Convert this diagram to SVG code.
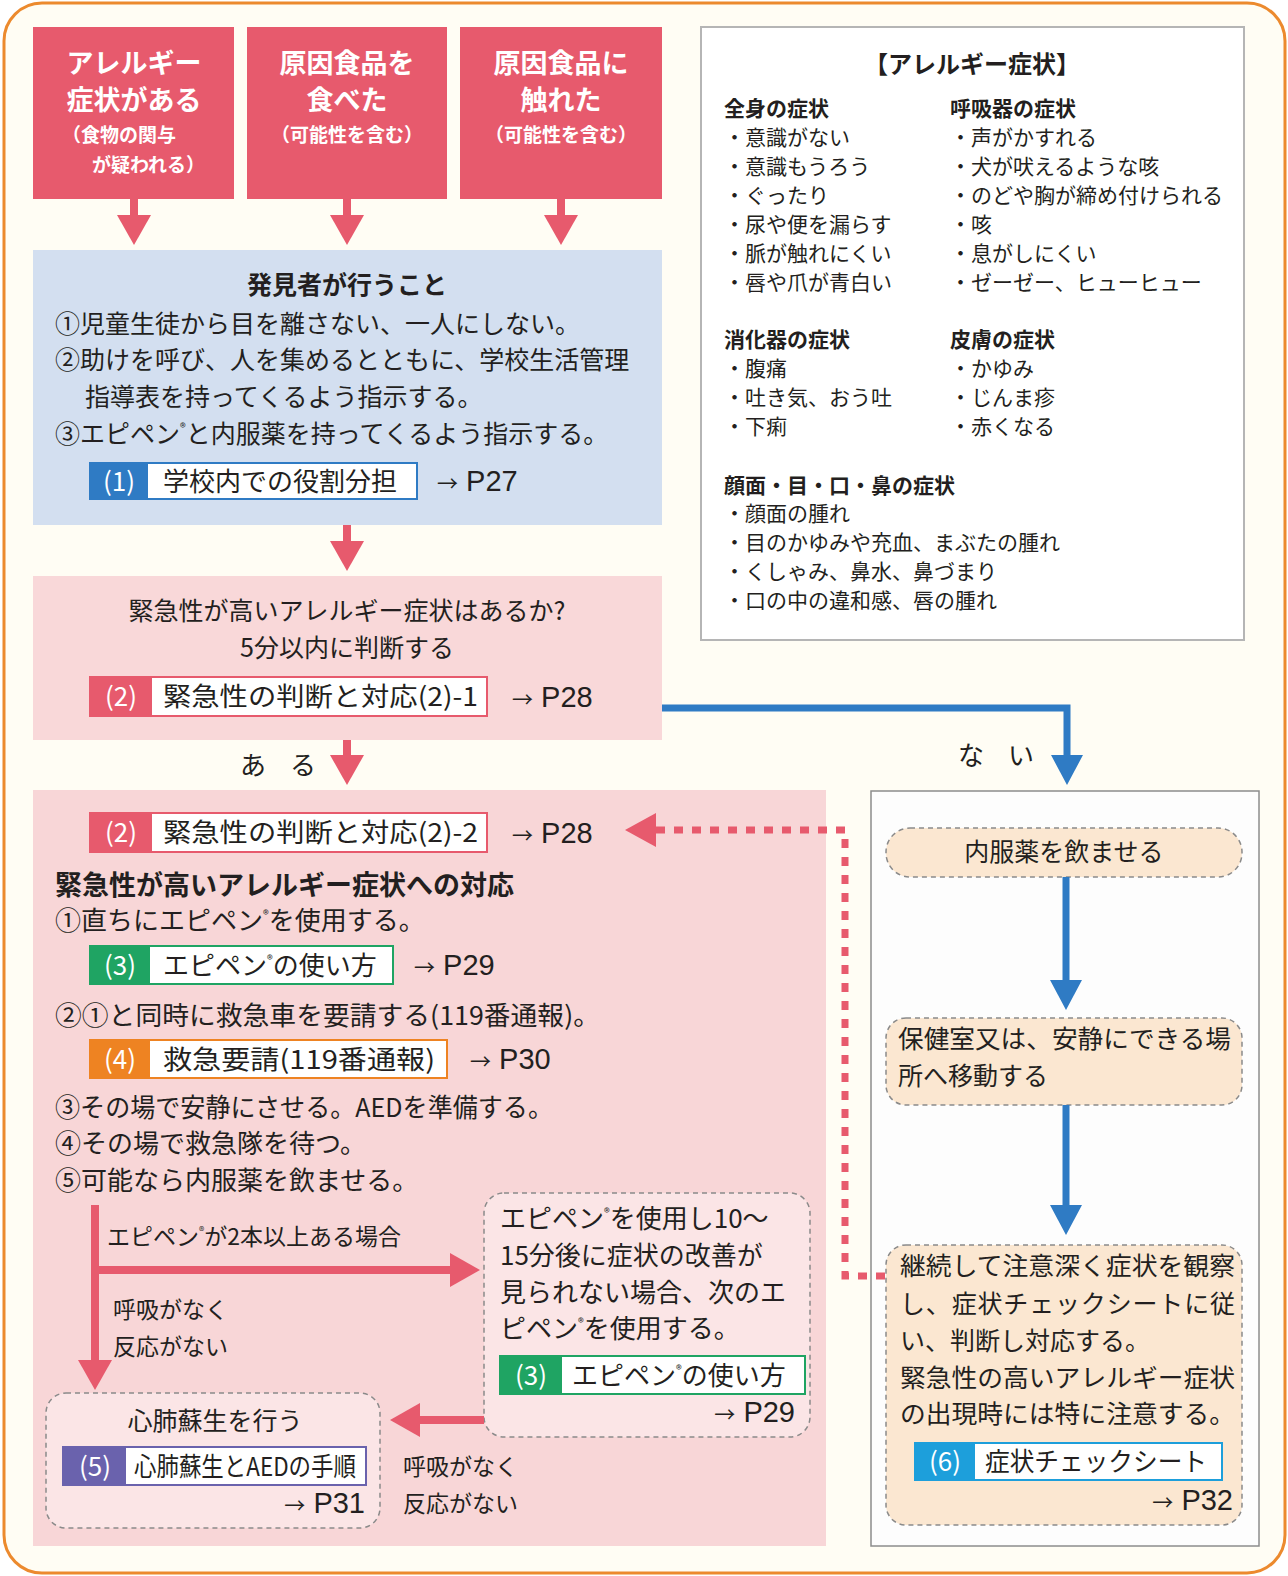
<svg xmlns="http://www.w3.org/2000/svg" width="1288" height="1576" viewBox="0 0 1288 1576">
<style>
text{font-family:"Noto Sans CJK JP","Noto Sans CJK SC",sans-serif;fill:#231f20}
.t{font-size:25px}
.t6{font-size:26px}
.b{font-weight:bold}
.w{fill:#fff}
.hd{font-size:27px;font-weight:bold;fill:#fff}
.sub{font-size:19px;font-weight:bold;fill:#fff}
.s{font-size:21px}
.sh{font-size:21px;font-weight:bold}
.pg{font-size:29px;font-family:"Liberation Sans",Arial,sans-serif}
.ar{font-size:21px;font-family:"Noto Sans CJK JP",sans-serif}
.lb{font-size:23px}
.red{fill:#e75a6d}
.dash{fill:#fbe5e6;stroke:#8a8a8a;stroke-width:1.5;stroke-dasharray:5 4}
.peach{fill:#fbe7d1;stroke:#8a8a8a;stroke-width:1.5;stroke-dasharray:5 4}
.pk{stroke:#e75a6d;stroke-width:8;fill:none}
.bl{stroke:#2f7bc4;stroke-width:7;fill:none}
</style>
<defs>
<marker id="ahp" viewBox="0 0 10 10" refX="0" refY="5" markerUnits="userSpaceOnUse" markerWidth="30" markerHeight="34" orient="auto" preserveAspectRatio="none"><path d="M0,0 L10,5 L0,10 z" fill="#e75a6d"/></marker>
<marker id="ahb" viewBox="0 0 10 10" refX="0" refY="5" markerUnits="userSpaceOnUse" markerWidth="30" markerHeight="32" orient="auto" preserveAspectRatio="none"><path d="M0,0 L10,5 L0,10 z" fill="#2f7bc4"/></marker>
</defs>

<rect x="4" y="3" width="1281" height="1570" rx="38" fill="#fffdf4" stroke="#ec8a2e" stroke-width="3"/>

<!-- top boxes -->
<g id="n-symptom">
<rect x="33" y="27" width="201" height="172" class="red"/>
<text x="134" y="73" class="hd" text-anchor="middle">アレルギー</text>
<text x="134" y="110" class="hd" text-anchor="middle">症状がある</text>
<text x="62" y="142" class="sub">（食物の関与</text>
<text x="92" y="172" class="sub">が疑われる）</text>
</g>
<g id="n-ate">
<rect x="247" y="27" width="200" height="172" class="red"/>
<text x="347" y="73" class="hd" text-anchor="middle">原因食品を</text>
<text x="347" y="110" class="hd" text-anchor="middle">食べた</text>
<text x="347" y="142" class="sub" text-anchor="middle">（可能性を含む）</text>
</g>
<g id="n-touched">
<rect x="460" y="27" width="202" height="172" class="red"/>
<text x="561" y="73" class="hd" text-anchor="middle">原因食品に</text>
<text x="561" y="110" class="hd" text-anchor="middle">触れた</text>
<text x="561" y="142" class="sub" text-anchor="middle">（可能性を含む）</text>
</g>

<!-- discoverer box -->
<g id="n-discoverer">
<rect x="33" y="250" width="629" height="275" fill="#d3dff0"/>
<text x="347" y="294" class="t b" text-anchor="middle">発見者が行うこと</text>
<text x="55" y="333" class="t">①児童生徒から目を離さない、一人にしない。</text>
<text x="55" y="369" class="t">②助けを呼び、人を集めるとともに、学校生活管理</text>
<text x="85" y="406" class="t">指導表を持ってくるよう指示する。</text>
<text x="55" y="443" class="t">③エピペン<tspan font-size="12" dy="-11">®</tspan><tspan dy="11">と内服薬を持ってくるよう指示する。</tspan></text>
<rect x="90" y="463" width="327" height="36" fill="#fff" stroke="#2f7bc4" stroke-width="2"/>
<rect x="90" y="463" width="58" height="36" fill="#2f7bc4"/>
<text x="119" y="491" class="t6 w" text-anchor="middle">(1)</text>
<text x="163" y="491" class="t6">学校内での役割分担</text>
<text x="437" y="491" class="pg"><tspan class="ar">→</tspan> P27</text>
</g>

<!-- judgement box -->
<g id="n-judge">
<rect x="33" y="576" width="629" height="164" fill="#f9d8d9"/>
<text x="347" y="620" class="t" text-anchor="middle">緊急性が高いアレルギー症状はあるか?</text>
<text x="347" y="657" class="t" text-anchor="middle">5分以内に判断する</text>
<rect x="90" y="677" width="397" height="39" fill="#fff" stroke="#e75a6d" stroke-width="2"/>
<rect x="90" y="677" width="62" height="39" fill="#e75a6d"/>
<text x="121" y="706" class="t6 w" text-anchor="middle">(2)</text>
<text x="163" y="706" class="t6" textLength="315" lengthAdjust="spacingAndGlyphs">緊急性の判断と対応(2)-1</text>
<text x="512" y="707" class="pg"><tspan class="ar">→</tspan> P28</text>
</g>

<!-- symptom list panel -->
<g id="n-list">
<rect x="701" y="27" width="543" height="613" fill="#fff" stroke="#b5b5b5" stroke-width="2"/>
<text x="972" y="73" font-size="24" class="b" text-anchor="middle">【アレルギー症状】</text>
<text x="724" y="116" class="sh">全身の症状</text>
<text x="724" y="145" class="s">・意識がない</text>
<text x="724" y="174" class="s">・意識もうろう</text>
<text x="724" y="203" class="s">・ぐったり</text>
<text x="724" y="232" class="s">・尿や便を漏らす</text>
<text x="724" y="261" class="s">・脈が触れにくい</text>
<text x="724" y="290" class="s">・唇や爪が青白い</text>
<text x="950" y="116" class="sh">呼吸器の症状</text>
<text x="950" y="145" class="s">・声がかすれる</text>
<text x="950" y="174" class="s">・犬が吠えるような咳</text>
<text x="950" y="203" class="s">・のどや胸が締め付けられる</text>
<text x="950" y="232" class="s">・咳</text>
<text x="950" y="261" class="s">・息がしにくい</text>
<text x="950" y="290" class="s">・ゼーゼー、ヒューヒュー</text>
<text x="724" y="347" class="sh">消化器の症状</text>
<text x="724" y="376" class="s">・腹痛</text>
<text x="724" y="405" class="s">・吐き気、おう吐</text>
<text x="724" y="434" class="s">・下痢</text>
<text x="950" y="347" class="sh">皮膚の症状</text>
<text x="950" y="376" class="s">・かゆみ</text>
<text x="950" y="405" class="s">・じんま疹</text>
<text x="950" y="434" class="s">・赤くなる</text>
<text x="724" y="493" class="sh">顔面・目・口・鼻の症状</text>
<text x="724" y="521" class="s">・顔面の腫れ</text>
<text x="724" y="550" class="s">・目のかゆみや充血、まぶたの腫れ</text>
<text x="724" y="579" class="s">・くしゃみ、鼻水、鼻づまり</text>
<text x="724" y="608" class="s">・口の中の違和感、唇の腫れ</text>
</g>

<!-- emergency response box -->
<g id="n-emergency">
<rect x="33" y="790" width="793" height="756" fill="#f8d6d7"/>
<rect x="90" y="813" width="397" height="39" fill="#fff" stroke="#e75a6d" stroke-width="2"/>
<rect x="90" y="813" width="62" height="39" fill="#e75a6d"/>
<text x="121" y="842" class="t6 w" text-anchor="middle">(2)</text>
<text x="163" y="842" class="t6" textLength="315" lengthAdjust="spacingAndGlyphs">緊急性の判断と対応(2)-2</text>
<text x="512" y="843" class="pg"><tspan class="ar">→</tspan> P28</text>
<text x="55" y="895" font-size="27" class="b">緊急性が高いアレルギー症状への対応</text>
<text x="55" y="930" class="t6">①直ちにエピペン<tspan font-size="12" dy="-11">®</tspan><tspan dy="11">を使用する。</tspan></text>
<rect x="90" y="946" width="303" height="38" fill="#fff" stroke="#1fa463" stroke-width="2"/>
<rect x="90" y="946" width="60" height="38" fill="#1fa463"/>
<text x="120" y="975" class="t6 w" text-anchor="middle">(3)</text>
<text x="163" y="975" class="t6">エピペン<tspan font-size="12" dy="-11">®</tspan><tspan dy="11">の使い方</tspan></text>
<text x="414" y="975" class="pg"><tspan class="ar">→</tspan> P29</text>
<text x="55" y="1025" class="t6" textLength="545" lengthAdjust="spacingAndGlyphs">②①と同時に救急車を要請する(119番通報)。</text>
<rect x="90" y="1040" width="357" height="38" fill="#fff" stroke="#ee8322" stroke-width="2"/>
<rect x="90" y="1040" width="60" height="38" fill="#ee8322"/>
<text x="120" y="1069" class="t6 w" text-anchor="middle">(4)</text>
<text x="163" y="1069" class="t6" textLength="272" lengthAdjust="spacingAndGlyphs">救急要請(119番通報)</text>
<text x="470" y="1069" class="pg"><tspan class="ar">→</tspan> P30</text>
<text x="55" y="1117" class="t6" textLength="498" lengthAdjust="spacingAndGlyphs">③その場で安静にさせる。AEDを準備する。</text>
<text x="55" y="1153" class="t6">④その場で救急隊を待つ。</text>
<text x="55" y="1190" class="t6">⑤可能なら内服薬を飲ませる。</text>
<text x="107" y="1245" class="lb">エピペン<tspan font-size="11" dy="-10">®</tspan><tspan dy="10">が2本以上ある場合</tspan></text>
<text x="113" y="1318" class="lb">呼吸がなく</text>
<text x="113" y="1355" class="lb">反応がない</text>
<text x="403" y="1475" class="lb">呼吸がなく</text>
<text x="403" y="1512" class="lb">反応がない</text>
</g>

<g id="n-second">
<rect x="484" y="1193" width="326" height="244" rx="20" class="dash"/>
<text x="500" y="1228" class="t6">エピペン<tspan font-size="12" dy="-11">®</tspan><tspan dy="11">を使用し10～</tspan></text>
<text x="500" y="1265" class="t6">15分後に症状の改善が</text>
<text x="500" y="1302" class="t6">見られない場合、次のエ</text>
<text x="500" y="1338" class="t6">ピペン<tspan font-size="12" dy="-11">®</tspan><tspan dy="11">を使用する。</tspan></text>
<rect x="500" y="1356" width="305" height="38" fill="#fff" stroke="#1fa463" stroke-width="2"/>
<rect x="500" y="1356" width="62" height="38" fill="#1fa463"/>
<text x="531" y="1385" class="t6 w" text-anchor="middle">(3)</text>
<text x="572" y="1385" class="t6">エピペン<tspan font-size="12" dy="-11">®</tspan><tspan dy="11">の使い方</tspan></text>
<text x="795" y="1422" class="pg" text-anchor="end"><tspan class="ar">→</tspan> P29</text>
</g>

<g id="n-cpr">
<rect x="46" y="1393" width="334" height="135" rx="20" class="dash"/>
<text x="215" y="1430" class="t" text-anchor="middle">心肺蘇生を行う</text>
<rect x="63" y="1447" width="303" height="38" fill="#fff" stroke="#6a62ad" stroke-width="2"/>
<rect x="63" y="1447" width="63" height="38" fill="#6a62ad"/>
<text x="95" y="1476" class="t6 w" text-anchor="middle">(5)</text>
<text x="134" y="1476" class="t6" textLength="222" lengthAdjust="spacingAndGlyphs">心肺蘇生とAEDの手順</text>
<text x="365" y="1513" class="pg" text-anchor="end"><tspan class="ar">→</tspan> P31</text>
</g>

<!-- right "no" panel -->
<g id="n-nopanel">
<rect x="871" y="791" width="388" height="755" fill="#fdfdfd" stroke="#8c8c8c" stroke-width="1.5"/>
</g>
<g id="n-medicine">
<rect x="886" y="828" width="356" height="49" rx="24" class="peach"/>
<text x="1064" y="861" class="t" text-anchor="middle">内服薬を飲ませる</text>
</g>
<g id="n-move">
<rect x="886" y="1018" width="356" height="87" rx="20" class="peach"/>
<text x="898" y="1048" class="t" textLength="333" lengthAdjust="spacingAndGlyphs">保健室又は、安静にできる場</text>
<text x="898" y="1085" class="t">所へ移動する</text>
</g>
<g id="n-observe">
<rect x="886" y="1245" width="356" height="280" rx="20" class="peach"/>
<text x="900" y="1275" class="t" textLength="335" lengthAdjust="spacingAndGlyphs">継続して注意深く症状を観察</text>
<text x="900" y="1313" class="t" textLength="335" lengthAdjust="spacing">し、症状チェックシートに従</text>
<text x="900" y="1350" class="t">い、判断し対応する。</text>
<text x="900" y="1387" class="t" textLength="335" lengthAdjust="spacingAndGlyphs">緊急性の高いアレルギー症状</text>
<text x="900" y="1423" class="t" textLength="335" lengthAdjust="spacingAndGlyphs">の出現時には特に注意する。</text>
<rect x="915" y="1443" width="307" height="37" fill="#fff" stroke="#1d9fdb" stroke-width="2"/>
<rect x="915" y="1443" width="60" height="37" fill="#1d9fdb"/>
<text x="945" y="1471" class="t6 w" text-anchor="middle">(6)</text>
<text x="985" y="1471" class="t6" textLength="222" lengthAdjust="spacingAndGlyphs">症状チェックシート</text>
<text x="1233" y="1510" class="pg" text-anchor="end"><tspan class="ar">→</tspan> P32</text>
</g>

<!-- connectors -->
<g id="connectors">
<line x1="134" y1="199" x2="134" y2="215" class="pk" marker-end="url(#ahp)"/>
<line x1="347" y1="199" x2="347" y2="215" class="pk" marker-end="url(#ahp)"/>
<line x1="561" y1="199" x2="561" y2="215" class="pk" marker-end="url(#ahp)"/>
<line x1="347" y1="525" x2="347" y2="541" class="pk" marker-end="url(#ahp)"/>
<line x1="347" y1="740" x2="347" y2="755" class="pk" marker-end="url(#ahp)"/>
<text x="240" y="775" font-size="26">あ</text>
<text x="290" y="775" font-size="26">る</text>
<path d="M662,708 H1067 V755" class="bl" marker-end="url(#ahb)"/>
<text x="958" y="765" font-size="26">な</text>
<text x="1008" y="765" font-size="26">い</text>
<path d="M885,1276 H845 V830 H656" fill="none" stroke="#e75a6d" stroke-width="7" stroke-dasharray="9 9"/>
<polygon points="656,813 656,847 625,830" fill="#e75a6d"/>
<line x1="1066" y1="877" x2="1066" y2="980" class="bl" marker-end="url(#ahb)"/>
<line x1="1066" y1="1105" x2="1066" y2="1205" class="bl" marker-end="url(#ahb)"/>
<line x1="95" y1="1205" x2="95" y2="1360" class="pk" marker-end="url(#ahp)"/>
<line x1="91" y1="1270" x2="450" y2="1270" class="pk" marker-end="url(#ahp)"/>
<line x1="484" y1="1420" x2="420" y2="1420" class="pk" marker-end="url(#ahp)"/>
</g>
</svg>
